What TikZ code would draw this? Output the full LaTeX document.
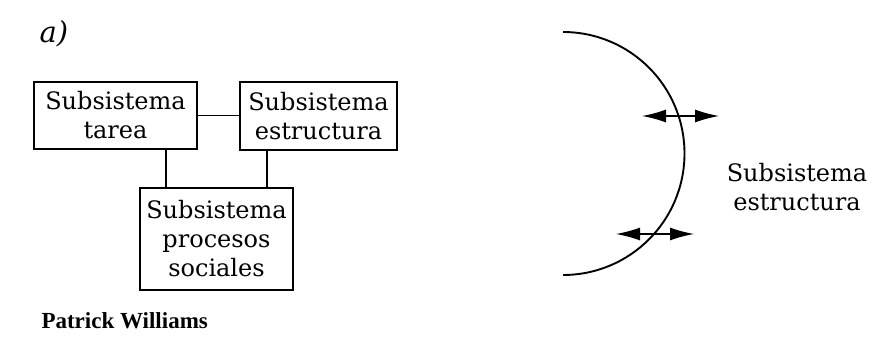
\documentclass[tikz,border=0pt]{standalone}
\usepackage{fontspec}
\setmainfont{DejaVu Serif}
\newfontfamily\namefont{Liberation Serif}
\usetikzlibrary{arrows.meta}

\begin{document}
\begin{tikzpicture}[x=1pt,y=1pt,
  box/.style={draw, line width=2pt, align=center, inner sep=0pt,
    font=\fontsize{24}{29}\selectfont},
  lbl/.style={align=center, font=\fontsize{24}{29}\selectfont},
  link/.style={line width=1.9pt},
  flow/.style={line width=1.3pt,
    {Latex[length=24pt,width=13pt]}-{Latex[length=24pt,width=13pt]}}]
\useasboundingbox (0,0) rectangle (894,-337);
%%% left part: the three subsystems
\node[font=\fontsize{29}{30}\selectfont\itshape, anchor=base west] (tag) at (36,-43) {a)};
\node[box, minimum width=163pt, minimum height=67pt] (tarea) at (115.5,-115.5) {Subsistema\\tarea};
\node[box, minimum width=157pt, minimum height=68pt] (estr) at (318.5,-116) {Subsistema\\estructura};
\node[box, minimum width=153pt, minimum height=102pt] (proc) at (216.5,-239) {Subsistema\\procesos\\sociales};
\node[font=\namefont\bfseries\fontsize{23}{25}\selectfont, anchor=base west] (autor) at (38,-328) {Patrick Williams};
% links between the boxes
\draw[link] (tarea.east) -- (tarea.east -| estr.west);
\coordinate (p1) at ([xshift=27pt]proc.north west);
\coordinate (p2) at ([xshift=-27pt]proc.north east);
\draw[link] (p1) -- (p1 |- tarea.south);
\draw[link] (p2) -- (p2 |- estr.south);
%%%%%%%%%%%%%%%%%%%%%
%%% right part: boundary and exchanges
\coordinate (top) at (563,-32);
\draw[link] (top) arc[start angle=90, end angle=-90, radius=121.5];
\coordinate (a1) at (642,-116);
\coordinate (a2) at (719,-116);
\coordinate (b1) at (616,-234);
\coordinate (b2) at (694,-234);
\draw[flow] (a1) -- (a2);
\draw[flow] (b1) -- (b2);
\node[lbl] (entorno) at (797,-187) {Subsistema\\estructura};
\end{tikzpicture}
\end{document}
